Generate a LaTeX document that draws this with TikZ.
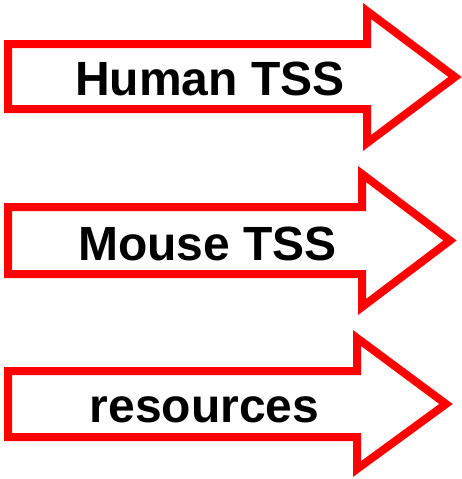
\documentclass[tikz,border=0pt]{standalone}
\usepackage{fontspec}
\setmainfont{Liberation Sans}
\usetikzlibrary{positioning}
\tikzset{
    redarrow/.style={draw=red, fill=white, line width=8pt, line join=miter},
    label/.style={anchor=base, inner sep=0pt, font=\fontsize{48}{48}\selectfont\bfseries}
}
\begin{document}
\begin{tikzpicture}[x=1pt, y=-1pt]
    \useasboundingbox (0, 0) rectangle (462, 479);
    \draw[redarrow] (8, 44) -- (367, 44) -- (367, 11) -- (455, 77) -- (367, 143) -- (367, 109) -- (8, 109) -- cycle;
    \draw[redarrow] (8, 207) -- (362, 207) -- (362, 174) -- (450, 240.5) -- (362, 307) -- (362, 274) -- (8, 274) -- cycle;
    \draw[redarrow] (8, 371) -- (357, 371) -- (357, 338) -- (446, 404) -- (357, 469) -- (357, 437) -- (8, 437) -- cycle;
    \node[label] (human) at (210, 95) {Human TSS};
    \node[label] (mouse) at (207.5, 260) {Mouse TSS};
    \node[label] (resources) at (204.5, 422) {resources};
\end{tikzpicture}
\end{document}
